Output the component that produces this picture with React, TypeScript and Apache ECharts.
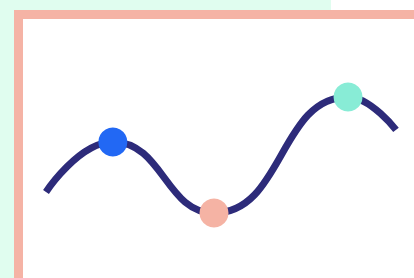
import React, { useEffect, useRef } from "react";
import * as echarts from "echarts";

const xValues = [0, 1.91, 4.8, 8.63, 10];
const yValues = [1.81, 6.12, 0, 10, 7.16];
const dotColors = [null, "#2268f4", "#f5b3a4", "#88ecd6", null];

const LINE_COLOR = "#2d2b7a";
const MINT_BG = "#e0fdef";
const SALMON = "#f5b3a5";

export default function App() {
  const ref = useRef<HTMLDivElement>(null);
  useEffect(() => {
    if (!ref.current) return;
    const chart = echarts.init(ref.current, null, { renderer: "svg" });
    const lineData = xValues.map((x, i) => [x, yValues[i]]);
    const dotData = xValues
      .map((x, i) => ({ value: [x, yValues[i]], itemStyle: { color: dotColors[i], opacity: 1 } }))
      .filter((d) => d.itemStyle.color);
    chart.setOption({
      animation: false,
      backgroundColor: "#ffffff",
      graphic: [
        { type: "rect", z: -10, shape: { x: 0, y: 0, width: 331, height: 278 }, style: { fill: MINT_BG } },
        { type: "rect", z: -9, shape: { x: 14, y: 10, width: 400, height: 268 }, style: { fill: SALMON } },
        { type: "rect", z: -8, shape: { x: 23, y: 19, width: 391, height: 259 }, style: { fill: "#ffffff" } },
      ],
      grid: { left: 46, right: 18, top: 97, bottom: 65 },
      xAxis: { type: "value", min: 0, max: 10, show: false },
      yAxis: { type: "value", min: 0, max: 10, show: false },
      series: [
        {
          type: "line",
          data: lineData,
          smooth: 0.5,
          showSymbol: false,
          clip: false,
          lineStyle: { color: LINE_COLOR, width: 7 },
          z: 2,
        },
        {
          type: "scatter",
          data: dotData,
          symbolSize: 29,
          clip: false,
          itemStyle: { opacity: 1 },
          z: 3,
        },
      ],
    });
    return () => chart.dispose();
  }, []);
  return <div ref={ref} style={{ position: "fixed", left: 0, top: 0, width: 414, height: 278 }} />;
}
